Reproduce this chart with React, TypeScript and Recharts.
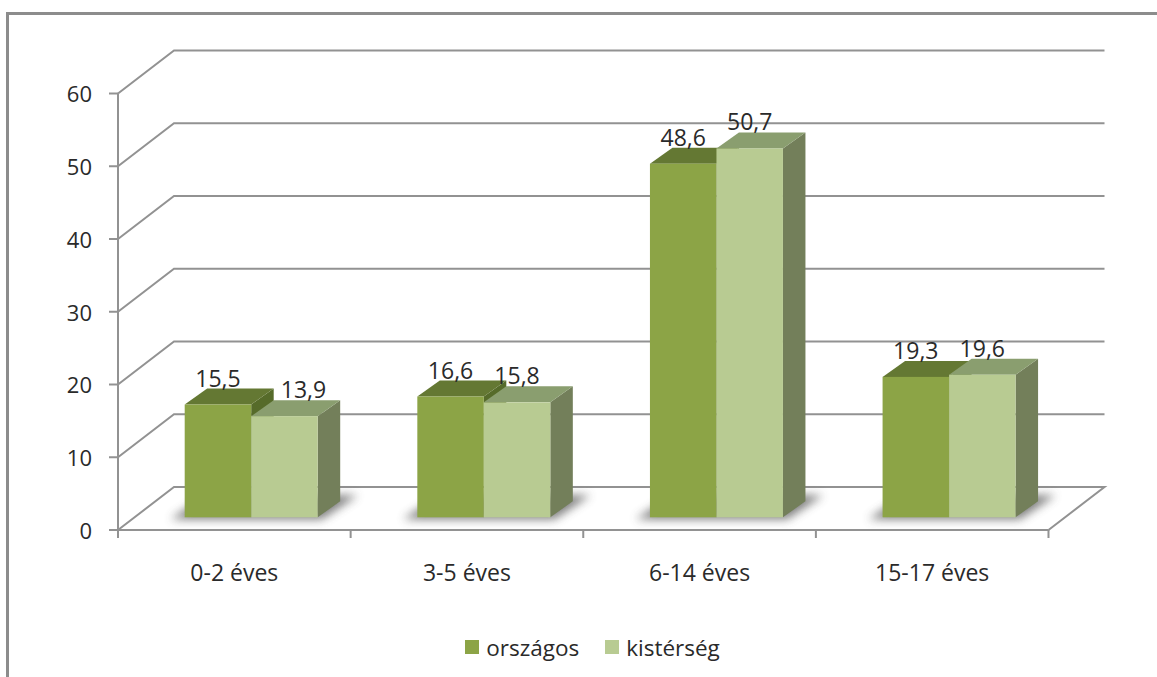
import React from 'react';
import { BarChart, Bar, XAxis, YAxis, CartesianGrid, LabelList, Legend } from 'recharts';

const categories = ['0-2 éves', '3-5 éves', '6-14 éves', '15-17 éves'];
const orszagos = [15.5, 16.6, 48.6, 19.3];
const kisterseg = [13.9, 15.8, 50.7, 19.6];
const yTicks = [0, 10, 20, 30, 40, 50, 60];

const chartData = categories.map((name, i) => ({
  name,
  orszagos: orszagos[i],
  kisterseg: kisterseg[i],
}));

const FONT = '"Open Sans", sans-serif';
const TEXT = '#2a2a2a';
const LINE = '#929292';

// fake 3D: how far the back wall sits from the front of the floor
const WALL_DX = 56;
const WALL_DY = -43;
// bars stand a bit inside the floor
const BAR_DX = 16.7;
const BAR_DY = -12.7;
// depth of a bar
const DEPTH_X = 22.5;
const DEPTH_Y = -16;
const BAND = 232.6;

const GridLine = (props: any) => {
  const { x1, y1, x2, y2 } = props;
  const isFloor = Math.abs(y1 - 530) < 2;
  const pts = [
    `${x1},${y1}`,
    `${x1 + WALL_DX},${y1 + WALL_DY}`,
    `${x2 + WALL_DX},${y2 + WALL_DY}`,
  ];
  if (isFloor) pts.push(`${x2},${y2}`);
  return <polyline key={props.key ?? y1} points={pts.join(' ')} fill="none" stroke={LINE} strokeWidth={2} />;
};

const makeBar = (topColor: string, sideColor: string, withShadow: boolean) => (props: any) => {
  const { x, y, width, height, fill } = props;
  const l = x + BAR_DX;
  const r = l + width;
  const t = y + BAR_DY;
  const b = t + height;
  return (
    <g>
      {withShadow && (
        <polygon
          points={`${l - 14},${b + 2} ${l + width * 2 + 4},${b + 2} ${l + width * 2 + 40},${b - 22} ${l + 22},${b - 22}`}
          fill="#4a4a4a"
          opacity={0.7}
          filter="url(#floorBlur)"
        />
      )}
      <polygon points={`${r},${t} ${r + DEPTH_X},${t + DEPTH_Y} ${r + DEPTH_X},${b + DEPTH_Y} ${r},${b}`} fill={sideColor} />
      <polygon points={`${l},${t} ${l + DEPTH_X},${t + DEPTH_Y} ${r + DEPTH_X},${t + DEPTH_Y} ${r},${t}`} fill={topColor} />
      <rect x={l} y={t} width={width} height={height} fill={fill} />
    </g>
  );
};

const BarLabel = (props: any) => {
  const { x, y, width, value, index, dataKey } = props;
  // Excel pushes the lower label aside when the neighbour's label would hit it
  const pushed = dataKey === 'kisterseg' && orszagos[index] - kisterseg[index] > 1;
  return (
    <text
      x={x + BAR_DX + width / 2 + (pushed ? 19 : 0)}
      y={y + BAR_DY - 27}
      textAnchor="middle"
      dominantBaseline="central"
      fontFamily={FONT}
      fontSize={23}
      fill={TEXT}
    >
      {Number(value).toFixed(1).replace('.', ',')}
    </text>
  );
};

const CategoryTick = (props: any) => {
  const { x, y, payload, index } = props;
  const left = x - BAND / 2;
  return (
    <g>
      <line x1={left} y1={530} x2={left} y2={538} stroke={LINE} strokeWidth={2} />
      {index === categories.length - 1 && (
        <line x1={left + BAND} y1={530} x2={left + BAND} y2={538} stroke={LINE} strokeWidth={2} />
      )}
      <text x={x} y={y + 34} textAnchor="middle" dominantBaseline="central" fontFamily={FONT} fontSize={23} fill={TEXT}>
        {payload.value}
      </text>
    </g>
  );
};

const LegendBox = ({ payload }: any) => (
  <div style={{ display: 'flex', justifyContent: 'center', gap: 26, height: 30, paddingLeft: 28, alignItems: 'center', fontFamily: FONT, fontSize: 22.5, color: TEXT }}>
    {(payload || []).map((p: any) => (
      <div key={p.value} style={{ display: 'flex', alignItems: 'center', gap: 7 }}>
        <span style={{ width: 14, height: 14, background: p.color, display: 'inline-block' }} />
        <span>{p.value}</span>
      </div>
    ))}
  </div>
);

export default function App() {
  return (
    <div style={{ position: 'absolute', left: 0, top: 0, width: 1157, height: 677, background: '#fff', overflow: 'hidden' }}>
      <div
        style={{
          position: 'absolute',
          left: 6,
          top: 12,
          right: 0,
          bottom: 0,
          borderLeft: '3px solid #8c8c8c',
          borderTop: '3px solid #8c8c8c',
        }}
      />
      <BarChart
        width={1157}
        height={677}
        data={chartData}
        margin={{ top: 93.5, right: 108.5, bottom: 57, left: 58 }}
        barSize={66.5}
        barGap={0}
        style={{ position: 'absolute', left: 0, top: 0 }}
      >
        <defs>
          <filter id="floorBlur" x="-30%" y="-60%" width="160%" height="220%">
            <feGaussianBlur stdDeviation="5" />
          </filter>
        </defs>
        <CartesianGrid vertical={false} horizontal={GridLine} />
        <XAxis
          dataKey="name"
          height={60}
          interval={0}
          tickLine={false}
          axisLine={{ stroke: LINE, strokeWidth: 2 }}
          tick={CategoryTick}
        />
        <YAxis
          width={60}
          domain={[0, 60]}
          ticks={yTicks}
          tickSize={9}
          tickMargin={17}
          tickLine={{ stroke: LINE, strokeWidth: 2 }}
          axisLine={{ stroke: LINE, strokeWidth: 2 }}
          tick={{ fontFamily: FONT, fontSize: 22, fill: TEXT, dy: 1 }}
        />
        <Legend
          verticalAlign="bottom"
          itemSorter={null}
          content={LegendBox}
          wrapperStyle={{ bottom: 15, left: 0, width: 1157 }}
        />
        <Bar dataKey="orszagos" name="országos" fill="#8CA446" isAnimationActive={false} shape={makeBar('#647833', '#566B2A', true)}>
          <LabelList dataKey="orszagos" content={(p: any) => <BarLabel {...p} dataKey="orszagos" />} />
        </Bar>
        <Bar dataKey="kisterseg" name="kistérség" fill="#B8CB92" isAnimationActive={false} shape={makeBar('#8A9E6F', '#737F5A', false)}>
          <LabelList dataKey="kisterseg" content={(p: any) => <BarLabel {...p} dataKey="kisterseg" />} />
        </Bar>
      </BarChart>
    </div>
  );
}
